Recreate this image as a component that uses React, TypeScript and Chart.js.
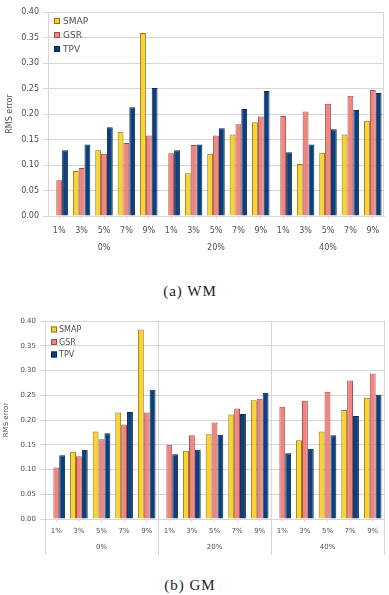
import React, { useEffect, useRef } from 'react';
import { Chart, registerables } from 'chart.js';

Chart.register(...registerables);

// Noise rates within each missing-data group
const rates = ['1%', '3%', '5%', '7%', '9%'];
const categories = [...rates, ...rates, ...rates];
const groups = ['0%', '20%', '40%'];
const seriesNames = ['SMAP', 'GSR', 'TPV'];

// (a) WM — RMS error
const wmSMAP = [null, 0.088, 0.129, 0.165, 0.359, null, 0.084, 0.122, 0.160, 0.184, null, 0.102, 0.124, 0.160, 0.187];
const wmGSR = [0.070, 0.094, 0.122, 0.143, 0.158, 0.123, 0.139, 0.158, 0.180, 0.195, 0.196, 0.205, 0.220, 0.236, 0.247];
const wmTPV = [0.129, 0.140, 0.174, 0.213, 0.251, 0.129, 0.140, 0.172, 0.210, 0.245, 0.125, 0.140, 0.170, 0.208, 0.241];

// (b) GM — RMS error
const gmSMAP = [null, 0.136, 0.177, 0.215, 0.383, null, 0.138, 0.171, 0.211, 0.240, null, 0.159, 0.177, 0.220, 0.245];
const gmGSR = [0.104, 0.127, 0.161, 0.191, 0.215, 0.150, 0.169, 0.195, 0.223, 0.243, 0.227, 0.239, 0.257, 0.280, 0.294];
const gmTPV = [0.129, 0.140, 0.173, 0.216, 0.261, 0.131, 0.140, 0.170, 0.212, 0.255, 0.133, 0.142, 0.169, 0.208, 0.251];

const yTicksMax = 0.4;
const yStep = 0.05;

const FILL = ['#FCD22C', '#F2837F', '#0D3F7D'];
const EDGE = ['#8C7416', '#A24C49', '#06264F'];
const GRID = '#D6D6D6';
const TEXT = '#4E4E4E';
const FONT = '"DejaVu Sans", sans-serif';

type Panel = {
  values: (number | null)[][];
  width: number;
  height: number;
  tickFont: number;
  legendFont: number;
  padding: { left: number; right: number; top: number; bottom: number };
  yWidth: number;
  titlePad: number;
  xHeight: number;
  x2Height: number;
  xTickPad: number;
  x2TickPad: number;
  legend: { dx: number; dy: number; gap: number; box: number; textGap: number };
  separators: boolean;
  sepDrop: number;
};

const panelDecor = {
  id: 'panelDecor',
  afterDatasetsDraw(chart: any, _args: any, opts: any) {
    const { ctx, chartArea } = chart;
    const xs = chart.scales.x;
    ctx.save();
    ctx.strokeStyle = GRID;
    ctx.lineWidth = 1;
    const vline = (x: number, y0: number, y1: number) => {
      const px = Math.round(x) + 0.5;
      ctx.beginPath();
      ctx.moveTo(px, y0);
      ctx.lineTo(px, y1);
      ctx.stroke();
    };
    if (opts.separators) {
      const bottom = chart.scales.x2.top + opts.sepDrop;
      const n = chart.data.labels.length;
      const per = rates.length;
      const edges = [chartArea.left];
      for (let i = per; i < n; i += per) {
        edges.push((xs.getPixelForTick(i - 1) + xs.getPixelForTick(i)) / 2);
      }
      edges.push(chartArea.right);
      edges.forEach((e) => vline(e, chartArea.top, bottom));
    } else {
      vline(chartArea.right - 1, chartArea.top, chartArea.bottom);
    }

    // legend inside the plot, top-left
    const lg = opts.legend;
    ctx.font = `${opts.legendFont}px ${FONT}`;
    ctx.textBaseline = 'middle';
    ctx.textAlign = 'left';
    chart.data.datasets.forEach((ds: any, i: number) => {
      const cy = chartArea.top + lg.dy + i * lg.gap;
      const bx = chartArea.left + lg.dx;
      ctx.fillStyle = ds.backgroundColor;
      ctx.fillRect(bx, cy - lg.box / 2, lg.box, lg.box);
      ctx.strokeStyle = ds.borderColor;
      ctx.strokeRect(bx + 0.5, cy - lg.box / 2 + 0.5, lg.box - 1, lg.box - 1);
      ctx.fillStyle = TEXT;
      ctx.fillText(ds.label, bx + lg.box + lg.textGap, cy + 0.5);
    });
    ctx.restore();
  },
};

function BarPanel({ p, top }: { p: Panel; top: number }) {
  const ref = useRef<HTMLCanvasElement>(null);
  useEffect(() => {
    if (!ref.current) return;
    const chart = new Chart(ref.current, {
      type: 'bar',
      data: {
        labels: categories,
        datasets: seriesNames.map((name, i) => ({
          label: name,
          data: p.values[i],
          backgroundColor: FILL[i],
          borderColor: EDGE[i],
          borderWidth: 1,
          categoryPercentage: 0.78,
          barPercentage: 1,
        })),
      },
      options: {
        animation: false,
        responsive: false,
        devicePixelRatio: 1,
        layout: { padding: p.padding },
        plugins: {
          legend: { display: false },
          tooltip: { enabled: false },
          panelDecor: {
            separators: p.separators,
            sepDrop: p.sepDrop,
            legend: p.legend,
            legendFont: p.legendFont,
          },
        } as any,
        scales: {
          x: {
            weight: 0,
            offset: true,
            grid: {
              offset: false,
              drawOnChartArea: false,
              drawTicks: true,
              tickLength: 3,
              color: GRID,
            },
            border: { display: true, color: GRID },
            ticks: { color: TEXT, font: { family: FONT, size: p.tickFont }, padding: p.xTickPad, maxRotation: 0, autoSkip: false },
            afterFit: (s: any) => { s.height = p.xHeight; },
          },
          x2: {
            type: 'category',
            position: 'bottom',
            weight: 1,
            labels: groups,
            offset: true,
            grid: { display: false, drawTicks: false },
            border: { display: false },
            ticks: { color: TEXT, font: { family: FONT, size: p.tickFont }, padding: p.x2TickPad, maxRotation: 0 },
            afterFit: (s: any) => { s.height = p.x2Height; },
          },
          y: {
            min: 0,
            max: yTicksMax,
            grid: { color: GRID, tickLength: 5 },
            border: { display: true, color: GRID },
            ticks: {
              stepSize: yStep,
              color: TEXT,
              font: { family: FONT, size: p.tickFont },
              padding: 4,
              callback: (v: any) => Number(v).toFixed(2),
            },
            title: {
              display: true,
              text: 'RMS error',
              color: TEXT,
              font: { family: FONT, size: p.tickFont },
              padding: { top: p.titlePad, bottom: 0 },
            },
            afterFit: (s: any) => { s.width = p.yWidth; },
          },
        } as any,
      },
      plugins: [panelDecor],
    });
    return () => chart.destroy();
  }, [p]);
  return (
    <canvas
      ref={ref}
      width={p.width}
      height={p.height}
      style={{ position: 'absolute', left: 0, top, width: p.width, height: p.height }}
    />
  );
}

const wmPanel: Panel = {
  values: [wmSMAP, wmGSR, wmTPV],
  width: 389,
  height: 260,
  tickFont: 8,
  legendFont: 9,
  padding: { left: 2, right: 5, top: 12, bottom: 0 },
  yWidth: 46,
  titlePad: 3,
  xHeight: 20,
  x2Height: 24,
  xTickPad: 7,
  x2TickPad: 7,
  legend: { dx: 6, dy: 9, gap: 14, box: 6, textGap: 3 },
  separators: false,
  sepDrop: 0,
};

const gmPanel: Panel = {
  values: [gmSMAP, gmGSR, gmTPV],
  width: 389,
  height: 262,
  tickFont: 7,
  legendFont: 8,
  padding: { left: 0, right: 5, top: 21, bottom: 0 },
  yWidth: 45,
  titlePad: 2,
  xHeight: 18,
  x2Height: 25,
  xTickPad: 5,
  x2TickPad: 6,
  legend: { dx: 6, dy: 8.5, gap: 12.5, box: 6, textGap: 2 },
  separators: true,
  sepDrop: 18,
};

const captionStyle: React.CSSProperties = {
  position: 'absolute',
  left: 0,
  width: 380,
  textAlign: 'center',
  fontFamily: '"Liberation Serif", serif',
  fontSize: 15,
  letterSpacing: 1,
  lineHeight: '17px',
  color: '#222',
};

export default function App() {
  return (
    <div style={{ position: 'absolute', left: 0, top: 0, width: 389, height: 595, background: '#fff' }}>
      <BarPanel p={wmPanel} top={0} />
      <div style={{ ...captionStyle, top: 283 }}>(a) WM</div>
      <BarPanel p={gmPanel} top={300} />
      <div style={{ ...captionStyle, top: 577 }}>(b) GM</div>
    </div>
  );
}
